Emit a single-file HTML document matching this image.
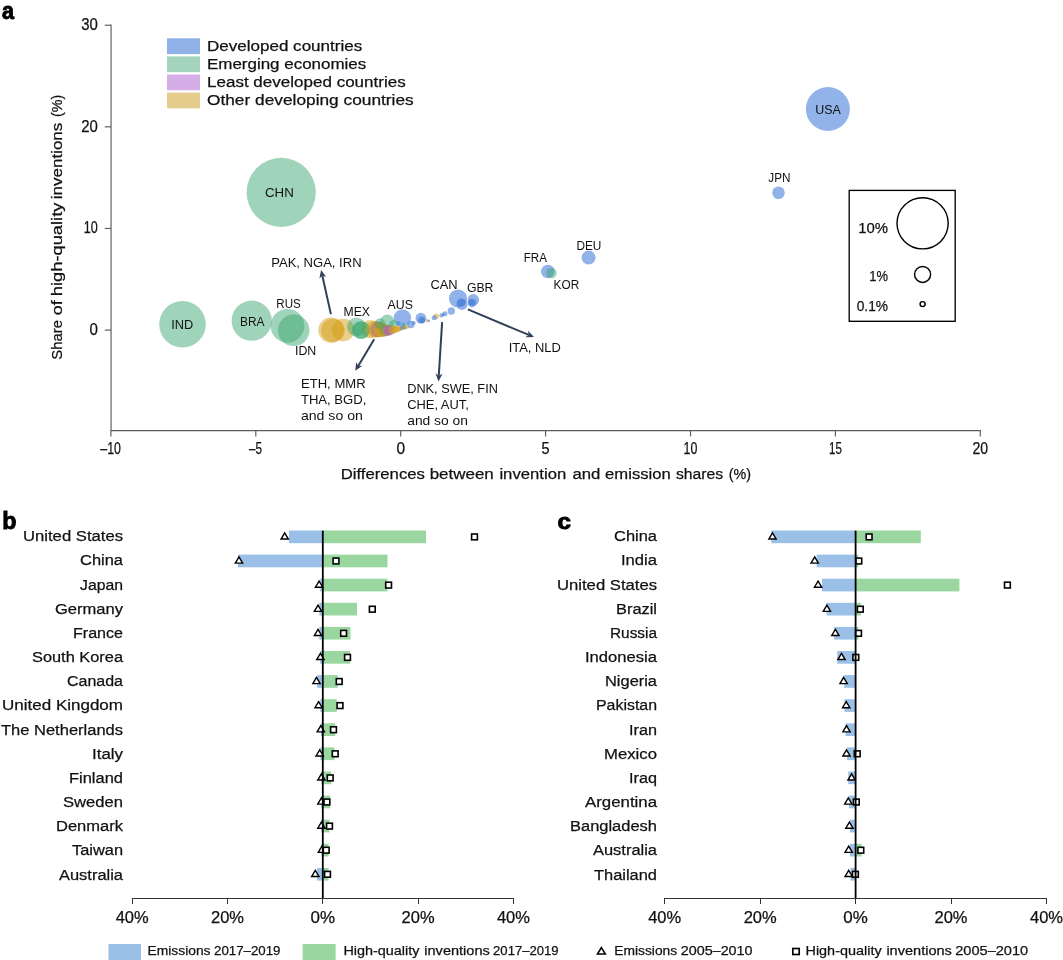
<!DOCTYPE html>
<html lang="en"><head><meta charset="utf-8"><title>Figure</title>
<style>
html,body{margin:0;padding:0;background:#fff;}
body{width:1063px;height:960px;overflow:hidden;}
svg{display:block;font-family:'Liberation Sans', sans-serif;}
</style></head><body>
<svg width="1063" height="960" viewBox="0 0 1063 960" fill="#111">
<rect width="1063" height="960" fill="#fff"/>
<g stroke="#5c5c5c" stroke-width="1.15" fill="none">
<path d="M111.05 24.6V430.55H980.9"/>
<path d="M104.7 25.21H111"/>
<path d="M104.7 126.84H111"/>
<path d="M104.7 228.47H111"/>
<path d="M104.7 330.1H111"/>
<path d="M110.9 430.5V436.4"/>
<path d="M255.8 430.5V436.4"/>
<path d="M400.7 430.5V436.4"/>
<path d="M545.6 430.5V436.4"/>
<path d="M690.5 430.5V436.4"/>
<path d="M835.4 430.5V436.4"/>
<path d="M980.3 430.5V436.4"/>
</g>
<text x="97.8" y="30.0" font-size="16" text-anchor="end" textLength="16.6" lengthAdjust="spacingAndGlyphs" stroke="#111" stroke-width="0.25">30</text>
<text x="97.8" y="131.6" font-size="16" text-anchor="end" textLength="16.6" lengthAdjust="spacingAndGlyphs" stroke="#111" stroke-width="0.25">20</text>
<text x="97.8" y="233.3" font-size="16" text-anchor="end" textLength="14" lengthAdjust="spacingAndGlyphs" stroke="#111" stroke-width="0.25">10</text>
<text x="97.8" y="334.9" font-size="16" text-anchor="end" textLength="8.4" lengthAdjust="spacingAndGlyphs" stroke="#111" stroke-width="0.25">0</text>
<text x="110.6" y="454" font-size="16" text-anchor="middle" textLength="20.6" lengthAdjust="spacingAndGlyphs" stroke="#111" stroke-width="0.25">–10</text>
<text x="255.5" y="454" font-size="16" text-anchor="middle" textLength="13" lengthAdjust="spacingAndGlyphs" stroke="#111" stroke-width="0.25">–5</text>
<text x="400.7" y="454" font-size="16" text-anchor="middle" textLength="8.6" lengthAdjust="spacingAndGlyphs" stroke="#111" stroke-width="0.25">0</text>
<text x="545.6" y="454" font-size="16" text-anchor="middle" textLength="8" lengthAdjust="spacingAndGlyphs" stroke="#111" stroke-width="0.25">5</text>
<text x="690.5" y="454" font-size="16" text-anchor="middle" textLength="13.8" lengthAdjust="spacingAndGlyphs" stroke="#111" stroke-width="0.25">10</text>
<text x="835.4" y="454" font-size="16" text-anchor="middle" textLength="12.8" lengthAdjust="spacingAndGlyphs" stroke="#111" stroke-width="0.25">15</text>
<text x="980.3" y="454" font-size="16" text-anchor="middle" textLength="15.6" lengthAdjust="spacingAndGlyphs" stroke="#111" stroke-width="0.25">20</text>
<text x="340.7" y="479" font-size="15.5" textLength="84.2" lengthAdjust="spacingAndGlyphs" stroke="#111" stroke-width="0.25">Differences</text>
<text x="429.7" y="479" font-size="15.5" textLength="64.1" lengthAdjust="spacingAndGlyphs" stroke="#111" stroke-width="0.25">between</text>
<text x="499.4" y="479" font-size="15.5" textLength="66.8" lengthAdjust="spacingAndGlyphs" stroke="#111" stroke-width="0.25">invention</text>
<text x="572.4" y="479" font-size="15.5" textLength="27.9" lengthAdjust="spacingAndGlyphs" stroke="#111" stroke-width="0.25">and</text>
<text x="605.1" y="479" font-size="15.5" textLength="65.6" lengthAdjust="spacingAndGlyphs" stroke="#111" stroke-width="0.25">emission</text>
<text x="675.9" y="479" font-size="15.5" textLength="47.2" lengthAdjust="spacingAndGlyphs" stroke="#111" stroke-width="0.25">shares</text>
<text x="728.7" y="479" font-size="15.5" textLength="22.3" lengthAdjust="spacingAndGlyphs" stroke="#111" stroke-width="0.25">(%)</text>
<text x="62.2" y="359.7" font-size="15.5" textLength="39.7" lengthAdjust="spacingAndGlyphs" transform="rotate(-90 62.2 359.7)" stroke="#111" stroke-width="0.25">Share</text>
<text x="62.2" y="315.2" font-size="15.5" textLength="14.9" lengthAdjust="spacingAndGlyphs" transform="rotate(-90 62.2 315.2)" stroke="#111" stroke-width="0.25">of</text>
<text x="62.2" y="296.2" font-size="15.5" textLength="93.6" lengthAdjust="spacingAndGlyphs" transform="rotate(-90 62.2 296.2)" stroke="#111" stroke-width="0.25">high-quality</text>
<text x="62.2" y="199.2" font-size="15.5" textLength="76.5" lengthAdjust="spacingAndGlyphs" transform="rotate(-90 62.2 199.2)" stroke="#111" stroke-width="0.25">inventions</text>
<text x="62.2" y="116.9" font-size="15.5" textLength="22.2" lengthAdjust="spacingAndGlyphs" transform="rotate(-90 62.2 116.9)" stroke="#111" stroke-width="0.25">(%)</text>
<text x="2" y="19.4" font-size="23" textLength="12" lengthAdjust="spacingAndGlyphs" font-weight="bold" stroke="#000" stroke-width="0.9" fill="#000">a</text>
<rect x="167" y="38.3" width="33" height="15.8" fill="#8fb1e8"/>
<text x="207" y="51.3" font-size="15.5" textLength="155.2" lengthAdjust="spacingAndGlyphs" stroke="#111" stroke-width="0.25">Developed countries</text>
<rect x="167" y="56.4" width="33" height="15.8" fill="#a4d4bb"/>
<text x="207" y="69.2" font-size="15.5" textLength="159.2" lengthAdjust="spacingAndGlyphs" stroke="#111" stroke-width="0.25">Emerging economies</text>
<rect x="167" y="74.5" width="33" height="15.8" fill="#d5aee8"/>
<text x="207" y="87.1" font-size="15.5" textLength="198.7" lengthAdjust="spacingAndGlyphs" stroke="#111" stroke-width="0.25">Least developed countries</text>
<rect x="167" y="92.6" width="33" height="15.8" fill="#e5cd8e"/>
<text x="207" y="105.0" font-size="15.5" textLength="206.7" lengthAdjust="spacingAndGlyphs" stroke="#111" stroke-width="0.25">Other developing countries</text>
<circle cx="281.2" cy="192.4" r="34.6" fill="rgba(54,164,109,0.47)"/>
<circle cx="182.5" cy="324.3" r="23.3" fill="rgba(54,164,109,0.47)"/>
<circle cx="827.9" cy="109" r="22" fill="rgba(73,128,218,0.6)"/>
<circle cx="251.7" cy="320.7" r="20.1" fill="rgba(54,164,109,0.47)"/>
<circle cx="287.5" cy="325.8" r="16.9" fill="rgba(54,164,109,0.47)"/>
<circle cx="293.7" cy="330.3" r="15.8" fill="rgba(54,164,109,0.47)"/>
<circle cx="331" cy="330.1" r="12.7" fill="rgba(212,160,23,0.5)"/>
<circle cx="333" cy="330.5" r="11.8" fill="rgba(212,160,23,0.5)"/>
<circle cx="343.2" cy="330.1" r="11.3" fill="rgba(212,160,23,0.5)"/>
<circle cx="356.4" cy="326.8" r="9.4" fill="rgba(54,164,109,0.47)"/>
<circle cx="370.2" cy="329.1" r="9.2" fill="rgba(212,160,23,0.5)"/>
<circle cx="458" cy="298.5" r="9.1" fill="rgba(73,128,218,0.6)"/>
<circle cx="361.1" cy="330.1" r="8.9" fill="rgba(54,164,109,0.47)"/>
<circle cx="402.4" cy="318" r="8.75" fill="rgba(73,128,218,0.6)"/>
<circle cx="361" cy="330" r="8.7" fill="rgba(54,164,109,0.47)"/>
<circle cx="374.8" cy="329.3" r="8.5" fill="rgba(212,160,23,0.5)"/>
<circle cx="376.8" cy="329.4" r="8.1" fill="rgba(212,160,23,0.5)"/>
<circle cx="378.3" cy="329.5" r="7.8" fill="rgba(170,90,210,0.5)"/>
<circle cx="379.8" cy="329.7" r="7.4" fill="rgba(212,160,23,0.5)"/>
<circle cx="387.2" cy="321.9" r="7.3" fill="rgba(54,164,109,0.47)"/>
<circle cx="381.5" cy="330" r="7" fill="rgba(212,160,23,0.5)"/>
<circle cx="588.6" cy="257.6" r="7" fill="rgba(73,128,218,0.6)"/>
<circle cx="547.8" cy="271.5" r="6.8" fill="rgba(73,128,218,0.6)"/>
<circle cx="383.2" cy="330.2" r="6.5" fill="rgba(212,160,23,0.5)"/>
<circle cx="778.5" cy="192.7" r="6.3" fill="rgba(73,128,218,0.6)"/>
<circle cx="384.8" cy="330.3" r="6.1" fill="rgba(212,160,23,0.5)"/>
<circle cx="385.5" cy="330.3" r="5.9" fill="rgba(54,164,109,0.47)"/>
<circle cx="473.3" cy="299.9" r="5.8" fill="rgba(73,128,218,0.6)"/>
<circle cx="386.8" cy="330.3" r="5.6" fill="rgba(212,160,23,0.5)"/>
<circle cx="462" cy="304.3" r="5.6" fill="rgba(73,128,218,0.6)"/>
<circle cx="380" cy="323.8" r="5.5" fill="rgba(54,164,109,0.47)"/>
<circle cx="388.3" cy="330.4" r="5.4" fill="rgba(170,90,210,0.5)"/>
<circle cx="420.9" cy="318.1" r="5.4" fill="rgba(73,128,218,0.6)"/>
<circle cx="551.4" cy="273" r="5.3" fill="rgba(54,164,109,0.47)"/>
<circle cx="389.8" cy="330.3" r="5" fill="rgba(170,90,210,0.5)"/>
<circle cx="393.4" cy="324.5" r="4.5" fill="rgba(54,164,109,0.47)"/>
<circle cx="392.3" cy="329.8" r="4.4" fill="rgba(212,160,23,0.5)"/>
<circle cx="472.1" cy="303" r="4.2" fill="rgba(73,128,218,0.6)"/>
<circle cx="461.2" cy="302.6" r="4" fill="rgba(73,128,218,0.6)"/>
<circle cx="394.3" cy="329.5" r="3.8" fill="rgba(212,160,23,0.5)"/>
<circle cx="410.9" cy="324.5" r="3.7" fill="rgba(73,128,218,0.6)"/>
<circle cx="451.3" cy="311" r="3.7" fill="rgba(73,128,218,0.6)"/>
<circle cx="421.6" cy="320" r="3.6" fill="rgba(73,128,218,0.6)"/>
<circle cx="396.3" cy="329.2" r="3.3" fill="rgba(212,160,23,0.5)"/>
<circle cx="471.5" cy="302.8" r="3.3" fill="rgba(73,128,218,0.6)"/>
<circle cx="398.3" cy="328.8" r="2.9" fill="rgba(212,160,23,0.5)"/>
<circle cx="436.3" cy="316.3" r="2.9" fill="rgba(212,160,23,0.5)"/>
<circle cx="422.3" cy="320.3" r="2.6" fill="rgba(73,128,218,0.6)"/>
<circle cx="400.3" cy="328.4" r="2.5" fill="rgba(212,160,23,0.5)"/>
<circle cx="434.2" cy="317.7" r="2.5" fill="rgba(73,128,218,0.6)"/>
<circle cx="445" cy="313.7" r="2.5" fill="rgba(73,128,218,0.6)"/>
<circle cx="398.5" cy="323.6" r="2.3" fill="rgba(73,128,218,0.6)"/>
<circle cx="401.8" cy="327.9" r="2.2" fill="rgba(73,128,218,0.6)"/>
<circle cx="403" cy="327.8" r="2.1" fill="rgba(212,160,23,0.5)"/>
<circle cx="441.5" cy="315.4" r="2.1" fill="rgba(73,128,218,0.6)"/>
<circle cx="404.3" cy="327.6" r="2" fill="rgba(73,128,218,0.6)"/>
<circle cx="403.5" cy="324.5" r="2" fill="rgba(54,164,109,0.47)"/>
<circle cx="413.7" cy="323" r="2" fill="rgba(73,128,218,0.6)"/>
<circle cx="405.5" cy="327.5" r="1.9" fill="rgba(212,160,23,0.5)"/>
<circle cx="407.5" cy="327.2" r="1.7" fill="rgba(212,160,23,0.5)"/>
<circle cx="427.1" cy="320.8" r="1.7" fill="rgba(212,160,23,0.5)"/>
<circle cx="443.3" cy="314.6" r="1.6" fill="rgba(73,128,218,0.6)"/>
<circle cx="428.8" cy="320.7" r="1.3" fill="rgba(73,128,218,0.6)"/>
<text x="265" y="197.2" font-size="13.4" textLength="28.8" lengthAdjust="spacingAndGlyphs">CHN</text>
<text x="171.3" y="328.9" font-size="13.4" textLength="22" lengthAdjust="spacingAndGlyphs">IND</text>
<text x="240" y="325.5" font-size="13.4" textLength="24.5" lengthAdjust="spacingAndGlyphs">BRA</text>
<text x="276.3" y="308" font-size="13.4" textLength="24.5" lengthAdjust="spacingAndGlyphs">RUS</text>
<text x="295" y="355" font-size="13.4" textLength="21.3" lengthAdjust="spacingAndGlyphs">IDN</text>
<text x="271.2" y="266.5" font-size="13.4" textLength="90.4" lengthAdjust="spacingAndGlyphs">PAK, NGA, IRN</text>
<text x="343.6" y="315.7" font-size="13.4" textLength="26.4" lengthAdjust="spacingAndGlyphs">MEX</text>
<text x="387.5" y="308.9" font-size="13.4" textLength="25.4" lengthAdjust="spacingAndGlyphs">AUS</text>
<text x="430.4" y="288.8" font-size="13.4" textLength="27.3" lengthAdjust="spacingAndGlyphs">CAN</text>
<text x="466.9" y="291.7" font-size="13.4" textLength="26.6" lengthAdjust="spacingAndGlyphs">GBR</text>
<text x="300.9" y="387.6" font-size="13.4" textLength="64.8" lengthAdjust="spacingAndGlyphs">ETH, MMR</text>
<text x="300.9" y="403.6" font-size="13.4" textLength="65.4" lengthAdjust="spacingAndGlyphs">THA, BGD,</text>
<text x="300.9" y="419.6" font-size="13.4" textLength="62" lengthAdjust="spacingAndGlyphs">and so on</text>
<text x="407.2" y="392.7" font-size="13.4" textLength="90.7" lengthAdjust="spacingAndGlyphs">DNK, SWE, FIN</text>
<text x="407.2" y="408.9" font-size="13.4" textLength="61.6" lengthAdjust="spacingAndGlyphs">CHE, AUT,</text>
<text x="407.2" y="425.2" font-size="13.4" textLength="60.8" lengthAdjust="spacingAndGlyphs">and so on</text>
<text x="508.7" y="351.7" font-size="13.4" textLength="52.1" lengthAdjust="spacingAndGlyphs">ITA, NLD</text>
<text x="523.7" y="262" font-size="13.4" textLength="23.2" lengthAdjust="spacingAndGlyphs">FRA</text>
<text x="576.4" y="250.3" font-size="13.4" textLength="25" lengthAdjust="spacingAndGlyphs">DEU</text>
<text x="553.5" y="289.2" font-size="13.4" textLength="25.7" lengthAdjust="spacingAndGlyphs">KOR</text>
<text x="768.3" y="182.3" font-size="13.4" textLength="22.2" lengthAdjust="spacingAndGlyphs">JPN</text>
<text x="815.3" y="114.4" font-size="13.4" textLength="25.6" lengthAdjust="spacingAndGlyphs">USA</text>
<path d="M330.9 314.1L322.3 275.5" stroke="#30405a" stroke-width="2" fill="none"/>
<path d="M321.1 269.9L326.2 277.0L322.3 275.5L319.4 278.5Z" fill="#30405a"/>
<path d="M374.2 339.2L358.2 365.9" stroke="#30405a" stroke-width="2" fill="none"/>
<path d="M355.2 370.8L356.3 362.1L358.2 365.9L362.3 365.7Z" fill="#30405a"/>
<path d="M442.1 322.1L438.8 375.8" stroke="#30405a" stroke-width="2" fill="none"/>
<path d="M438.5 381.5L435.5 373.3L438.8 375.8L442.5 373.7Z" fill="#30405a"/>
<path d="M467.9 309.4L528.7 334.9" stroke="#30405a" stroke-width="2" fill="none"/>
<path d="M534.0 337.1L525.3 337.2L528.7 334.9L528.0 330.8Z" fill="#30405a"/>
<rect x="849.2" y="190.4" width="106" height="130.9" fill="none" stroke="#000" stroke-width="1.35"/>
<circle cx="922.6" cy="223.3" r="25.6" fill="none" stroke="#000" stroke-width="1.4"/>
<circle cx="922.6" cy="274.4" r="8" fill="none" stroke="#000" stroke-width="1.45"/>
<circle cx="922.6" cy="304.1" r="2.5" fill="none" stroke="#000" stroke-width="1.45"/>
<text x="888" y="232.8" font-size="15.2" text-anchor="end" textLength="29.8" lengthAdjust="spacingAndGlyphs" stroke="#111" stroke-width="0.25">10%</text>
<text x="888" y="281" font-size="15.2" text-anchor="end" textLength="18.7" lengthAdjust="spacingAndGlyphs" stroke="#111" stroke-width="0.25">1%</text>
<text x="888" y="311" font-size="15.2" text-anchor="end" textLength="31.3" lengthAdjust="spacingAndGlyphs" stroke="#111" stroke-width="0.25">0.1%</text>
<text x="2.3" y="529.2" font-size="23.5" textLength="14.2" lengthAdjust="spacingAndGlyphs" font-weight="bold" stroke="#000" stroke-width="0.9" fill="#000">b</text>
<text x="123" y="541.1" font-size="15.5" text-anchor="end" textLength="100" lengthAdjust="spacingAndGlyphs" stroke="#111" stroke-width="0.25">United States</text>
<rect x="289" y="530.5" width="33.8" height="12.7" fill="#9bc0e8"/>
<rect x="322.8" y="530.5" width="103.2" height="12.7" fill="#9ad7a0"/>
<text x="123" y="565.3" font-size="15.5" text-anchor="end" textLength="43" lengthAdjust="spacingAndGlyphs" stroke="#111" stroke-width="0.25">China</text>
<rect x="238" y="554.6" width="84.8" height="12.7" fill="#9bc0e8"/>
<rect x="322.8" y="554.6" width="64.7" height="12.7" fill="#9ad7a0"/>
<text x="123" y="589.5" font-size="15.5" text-anchor="end" textLength="43" lengthAdjust="spacingAndGlyphs" stroke="#111" stroke-width="0.25">Japan</text>
<rect x="320.2" y="578.7" width="2.6" height="12.7" fill="#9bc0e8"/>
<rect x="322.8" y="578.7" width="64.7" height="12.7" fill="#9ad7a0"/>
<text x="123" y="613.6" font-size="15.5" text-anchor="end" textLength="68" lengthAdjust="spacingAndGlyphs" stroke="#111" stroke-width="0.25">Germany</text>
<rect x="319.3" y="602.8" width="3.5" height="12.7" fill="#9bc0e8"/>
<rect x="322.8" y="602.8" width="34.2" height="12.7" fill="#9ad7a0"/>
<text x="123" y="637.8" font-size="15.5" text-anchor="end" textLength="50" lengthAdjust="spacingAndGlyphs" stroke="#111" stroke-width="0.25">France</text>
<rect x="319.3" y="626.9" width="3.5" height="12.7" fill="#9bc0e8"/>
<rect x="322.8" y="626.9" width="27.7" height="12.7" fill="#9ad7a0"/>
<text x="123" y="662.0" font-size="15.5" text-anchor="end" textLength="91" lengthAdjust="spacingAndGlyphs" stroke="#111" stroke-width="0.25">South Korea</text>
<rect x="320.2" y="651.0" width="2.6" height="12.7" fill="#9bc0e8"/>
<rect x="322.8" y="651.0" width="27.2" height="12.7" fill="#9ad7a0"/>
<text x="123" y="686.2" font-size="15.5" text-anchor="end" textLength="56" lengthAdjust="spacingAndGlyphs" stroke="#111" stroke-width="0.25">Canada</text>
<rect x="317.2" y="675.1" width="5.6" height="12.7" fill="#9bc0e8"/>
<rect x="322.8" y="675.1" width="14.9" height="12.7" fill="#9ad7a0"/>
<text x="123" y="710.4" font-size="15.5" text-anchor="end" textLength="121" lengthAdjust="spacingAndGlyphs" stroke="#111" stroke-width="0.25">United Kingdom</text>
<rect x="320.3" y="699.2" width="2.5" height="12.7" fill="#9bc0e8"/>
<rect x="322.8" y="699.2" width="14.0" height="12.7" fill="#9ad7a0"/>
<text x="123" y="734.5" font-size="15.5" text-anchor="end" textLength="122" lengthAdjust="spacingAndGlyphs" stroke="#111" stroke-width="0.25">The Netherlands</text>
<rect x="321" y="723.3" width="1.8" height="12.7" fill="#9bc0e8"/>
<rect x="322.8" y="723.3" width="12.4" height="12.7" fill="#9ad7a0"/>
<text x="123" y="758.7" font-size="15.5" text-anchor="end" textLength="31" lengthAdjust="spacingAndGlyphs" stroke="#111" stroke-width="0.25">Italy</text>
<rect x="320.3" y="747.4" width="2.5" height="12.7" fill="#9bc0e8"/>
<rect x="322.8" y="747.4" width="11.7" height="12.7" fill="#9ad7a0"/>
<text x="123" y="782.9" font-size="15.5" text-anchor="end" textLength="54" lengthAdjust="spacingAndGlyphs" stroke="#111" stroke-width="0.25">Finland</text>
<rect x="321.3" y="771.5" width="1.5" height="12.7" fill="#9bc0e8"/>
<rect x="322.8" y="771.5" width="8.5" height="12.7" fill="#9ad7a0"/>
<text x="123" y="807.1" font-size="15.5" text-anchor="end" textLength="60" lengthAdjust="spacingAndGlyphs" stroke="#111" stroke-width="0.25">Sweden</text>
<rect x="321.3" y="795.6" width="1.5" height="12.7" fill="#9bc0e8"/>
<rect x="322.8" y="795.6" width="7.4" height="12.7" fill="#9ad7a0"/>
<text x="123" y="831.3" font-size="15.5" text-anchor="end" textLength="67" lengthAdjust="spacingAndGlyphs" stroke="#111" stroke-width="0.25">Denmark</text>
<rect x="321.3" y="819.7" width="1.5" height="12.7" fill="#9bc0e8"/>
<rect x="322.8" y="819.7" width="6.7" height="12.7" fill="#9ad7a0"/>
<text x="123" y="855.4" font-size="15.5" text-anchor="end" textLength="51" lengthAdjust="spacingAndGlyphs" stroke="#111" stroke-width="0.25">Taiwan</text>
<rect x="321.5" y="843.8" width="1.3" height="12.7" fill="#9bc0e8"/>
<rect x="322.8" y="843.8" width="5.8" height="12.7" fill="#9ad7a0"/>
<text x="123" y="879.6" font-size="15.5" text-anchor="end" textLength="64" lengthAdjust="spacingAndGlyphs" stroke="#111" stroke-width="0.25">Australia</text>
<rect x="317" y="867.9" width="5.8" height="12.7" fill="#9bc0e8"/>
<rect x="322.8" y="867.9" width="5.8" height="12.7" fill="#9ad7a0"/>
<path d="M284.7 532.88L288.36 539.05H281.04Z" fill="#fff" stroke="#000" stroke-width="1.4" stroke-linejoin="miter"/>
<rect x="471.60" y="534.00" width="5.8" height="5.8" fill="#fff" stroke="#000" stroke-width="1.6"/>
<path d="M239.0 556.98L242.66 563.15H235.34Z" fill="#fff" stroke="#000" stroke-width="1.4" stroke-linejoin="miter"/>
<rect x="333.10" y="558.10" width="5.8" height="5.8" fill="#fff" stroke="#000" stroke-width="1.6"/>
<path d="M319.1 581.08L322.76 587.25H315.44Z" fill="#fff" stroke="#000" stroke-width="1.4" stroke-linejoin="miter"/>
<rect x="385.70" y="582.20" width="5.8" height="5.8" fill="#fff" stroke="#000" stroke-width="1.6"/>
<path d="M318.0 605.18L321.66 611.35H314.34Z" fill="#fff" stroke="#000" stroke-width="1.4" stroke-linejoin="miter"/>
<rect x="369.40" y="606.30" width="5.8" height="5.8" fill="#fff" stroke="#000" stroke-width="1.6"/>
<path d="M318.0 629.28L321.66 635.45H314.34Z" fill="#fff" stroke="#000" stroke-width="1.4" stroke-linejoin="miter"/>
<rect x="340.70" y="630.40" width="5.8" height="5.8" fill="#fff" stroke="#000" stroke-width="1.6"/>
<path d="M320.4 653.38L324.06 659.55H316.74Z" fill="#fff" stroke="#000" stroke-width="1.4" stroke-linejoin="miter"/>
<rect x="344.60" y="654.50" width="5.8" height="5.8" fill="#fff" stroke="#000" stroke-width="1.6"/>
<path d="M316.5 677.48L320.16 683.65H312.84Z" fill="#fff" stroke="#000" stroke-width="1.4" stroke-linejoin="miter"/>
<rect x="336.30" y="678.60" width="5.8" height="5.8" fill="#fff" stroke="#000" stroke-width="1.6"/>
<path d="M318.6 701.58L322.26 707.75H314.94Z" fill="#fff" stroke="#000" stroke-width="1.4" stroke-linejoin="miter"/>
<rect x="337.10" y="702.70" width="5.8" height="5.8" fill="#fff" stroke="#000" stroke-width="1.6"/>
<path d="M320.8 725.68L324.46 731.85H317.14Z" fill="#fff" stroke="#000" stroke-width="1.4" stroke-linejoin="miter"/>
<rect x="330.60" y="726.80" width="5.8" height="5.8" fill="#fff" stroke="#000" stroke-width="1.6"/>
<path d="M319.7 749.78L323.36 755.95H316.04Z" fill="#fff" stroke="#000" stroke-width="1.4" stroke-linejoin="miter"/>
<rect x="332.30" y="750.90" width="5.8" height="5.8" fill="#fff" stroke="#000" stroke-width="1.6"/>
<path d="M321.4 773.88L325.06 780.05H317.74Z" fill="#fff" stroke="#000" stroke-width="1.4" stroke-linejoin="miter"/>
<rect x="327.30" y="775.00" width="5.8" height="5.8" fill="#fff" stroke="#000" stroke-width="1.6"/>
<path d="M321.4 797.98L325.06 804.15H317.74Z" fill="#fff" stroke="#000" stroke-width="1.4" stroke-linejoin="miter"/>
<rect x="324.00" y="799.10" width="5.8" height="5.8" fill="#fff" stroke="#000" stroke-width="1.6"/>
<path d="M321.4 822.08L325.06 828.25H317.74Z" fill="#fff" stroke="#000" stroke-width="1.4" stroke-linejoin="miter"/>
<rect x="326.60" y="823.20" width="5.8" height="5.8" fill="#fff" stroke="#000" stroke-width="1.6"/>
<path d="M321.9 846.18L325.56 852.35H318.24Z" fill="#fff" stroke="#000" stroke-width="1.4" stroke-linejoin="miter"/>
<rect x="323.30" y="847.30" width="5.8" height="5.8" fill="#fff" stroke="#000" stroke-width="1.6"/>
<path d="M315.3 870.28L318.96 876.45H311.64Z" fill="#fff" stroke="#000" stroke-width="1.4" stroke-linejoin="miter"/>
<rect x="324.60" y="871.40" width="5.8" height="5.8" fill="#fff" stroke="#000" stroke-width="1.6"/>
<rect x="321.9" y="530.6" width="1.8" height="368" fill="#000"/>
<g stroke="#333" stroke-width="1" fill="none" shape-rendering="crispEdges">
<path d="M132 898.5H514"/>
<path d="M132.5 898V904"/>
<path d="M227.5 898V904"/>
<path d="M322.5 898V904"/>
<path d="M418.5 898V904"/>
<path d="M513.5 898V904"/>
</g>
<text x="132.2" y="923.2" font-size="15.8" text-anchor="middle" textLength="33" lengthAdjust="spacingAndGlyphs" stroke="#111" stroke-width="0.25">40%</text>
<text x="227.5" y="923.2" font-size="15.8" text-anchor="middle" textLength="33" lengthAdjust="spacingAndGlyphs" stroke="#111" stroke-width="0.25">20%</text>
<text x="322.8" y="923.2" font-size="15.8" text-anchor="middle" textLength="24.5" lengthAdjust="spacingAndGlyphs" stroke="#111" stroke-width="0.25">0%</text>
<text x="418.1" y="923.2" font-size="15.8" text-anchor="middle" textLength="33" lengthAdjust="spacingAndGlyphs" stroke="#111" stroke-width="0.25">20%</text>
<text x="513.4" y="923.2" font-size="15.8" text-anchor="middle" textLength="33" lengthAdjust="spacingAndGlyphs" stroke="#111" stroke-width="0.25">40%</text>
<text x="557.5" y="529.2" font-size="22" textLength="13.5" lengthAdjust="spacingAndGlyphs" font-weight="bold" stroke="#000" stroke-width="0.9" fill="#000">c</text>
<text x="657" y="541.1" font-size="15.5" text-anchor="end" textLength="43" lengthAdjust="spacingAndGlyphs" stroke="#111" stroke-width="0.25">China</text>
<rect x="771.3" y="530.5" width="84.3" height="12.7" fill="#9bc0e8"/>
<rect x="855.6" y="530.5" width="65.2" height="12.7" fill="#9ad7a0"/>
<text x="657" y="565.3" font-size="15.5" text-anchor="end" textLength="36" lengthAdjust="spacingAndGlyphs" stroke="#111" stroke-width="0.25">India</text>
<rect x="816.6" y="554.6" width="39.0" height="12.7" fill="#9bc0e8"/>
<rect x="855.6" y="554.6" width="2.7" height="12.7" fill="#9ad7a0"/>
<text x="657" y="589.5" font-size="15.5" text-anchor="end" textLength="100" lengthAdjust="spacingAndGlyphs" stroke="#111" stroke-width="0.25">United States</text>
<rect x="822" y="578.7" width="33.6" height="12.7" fill="#9bc0e8"/>
<rect x="855.6" y="578.7" width="103.8" height="12.7" fill="#9ad7a0"/>
<text x="657" y="613.6" font-size="15.5" text-anchor="end" textLength="41" lengthAdjust="spacingAndGlyphs" stroke="#111" stroke-width="0.25">Brazil</text>
<rect x="826.6" y="602.8" width="29.0" height="12.7" fill="#9bc0e8"/>
<rect x="855.6" y="602.8" width="5.3" height="12.7" fill="#9ad7a0"/>
<text x="657" y="637.8" font-size="15.5" text-anchor="end" textLength="47" lengthAdjust="spacingAndGlyphs" stroke="#111" stroke-width="0.25">Russia</text>
<rect x="834.2" y="626.9" width="21.4" height="12.7" fill="#9bc0e8"/>
<rect x="855.6" y="626.9" width="2.9" height="12.7" fill="#9ad7a0"/>
<text x="657" y="662.0" font-size="15.5" text-anchor="end" textLength="72" lengthAdjust="spacingAndGlyphs" stroke="#111" stroke-width="0.25">Indonesia</text>
<rect x="837.2" y="651.0" width="18.4" height="12.7" fill="#9bc0e8"/>
<text x="657" y="686.2" font-size="15.5" text-anchor="end" textLength="52" lengthAdjust="spacingAndGlyphs" stroke="#111" stroke-width="0.25">Nigeria</text>
<rect x="844.2" y="675.1" width="11.4" height="12.7" fill="#9bc0e8"/>
<text x="657" y="710.4" font-size="15.5" text-anchor="end" textLength="61" lengthAdjust="spacingAndGlyphs" stroke="#111" stroke-width="0.25">Pakistan</text>
<rect x="844.5" y="699.2" width="11.1" height="12.7" fill="#9bc0e8"/>
<text x="657" y="734.5" font-size="15.5" text-anchor="end" textLength="28" lengthAdjust="spacingAndGlyphs" stroke="#111" stroke-width="0.25">Iran</text>
<rect x="845.6" y="723.3" width="10.0" height="12.7" fill="#9bc0e8"/>
<text x="657" y="758.7" font-size="15.5" text-anchor="end" textLength="53" lengthAdjust="spacingAndGlyphs" stroke="#111" stroke-width="0.25">Mexico</text>
<rect x="847.1" y="747.4" width="8.5" height="12.7" fill="#9bc0e8"/>
<text x="657" y="782.9" font-size="15.5" text-anchor="end" textLength="28" lengthAdjust="spacingAndGlyphs" stroke="#111" stroke-width="0.25">Iraq</text>
<rect x="848.3" y="771.5" width="7.3" height="12.7" fill="#9bc0e8"/>
<text x="657" y="807.1" font-size="15.5" text-anchor="end" textLength="72" lengthAdjust="spacingAndGlyphs" stroke="#111" stroke-width="0.25">Argentina</text>
<rect x="848.9" y="795.6" width="6.7" height="12.7" fill="#9bc0e8"/>
<text x="657" y="831.3" font-size="15.5" text-anchor="end" textLength="87" lengthAdjust="spacingAndGlyphs" stroke="#111" stroke-width="0.25">Bangladesh</text>
<rect x="850" y="819.7" width="5.6" height="12.7" fill="#9bc0e8"/>
<text x="657" y="855.4" font-size="15.5" text-anchor="end" textLength="64" lengthAdjust="spacingAndGlyphs" stroke="#111" stroke-width="0.25">Australia</text>
<rect x="850" y="843.8" width="5.6" height="12.7" fill="#9bc0e8"/>
<rect x="855.6" y="843.8" width="6.1" height="12.7" fill="#9ad7a0"/>
<text x="657" y="879.6" font-size="15.5" text-anchor="end" textLength="63" lengthAdjust="spacingAndGlyphs" stroke="#111" stroke-width="0.25">Thailand</text>
<rect x="850.5" y="867.9" width="5.1" height="12.7" fill="#9bc0e8"/>
<path d="M772.5 532.88L776.16 539.05H768.84Z" fill="#fff" stroke="#000" stroke-width="1.4" stroke-linejoin="miter"/>
<rect x="866.20" y="534.00" width="5.8" height="5.8" fill="#fff" stroke="#000" stroke-width="1.6"/>
<path d="M814.7 556.98L818.36 563.15H811.04Z" fill="#fff" stroke="#000" stroke-width="1.4" stroke-linejoin="miter"/>
<rect x="855.90" y="558.10" width="5.8" height="5.8" fill="#fff" stroke="#000" stroke-width="1.6"/>
<path d="M818.1 581.08L821.76 587.25H814.44Z" fill="#fff" stroke="#000" stroke-width="1.4" stroke-linejoin="miter"/>
<rect x="1004.50" y="582.20" width="5.8" height="5.8" fill="#fff" stroke="#000" stroke-width="1.6"/>
<path d="M826.9 605.18L830.56 611.35H823.24Z" fill="#fff" stroke="#000" stroke-width="1.4" stroke-linejoin="miter"/>
<rect x="857.40" y="606.30" width="5.8" height="5.8" fill="#fff" stroke="#000" stroke-width="1.6"/>
<path d="M835.4 629.28L839.06 635.45H831.74Z" fill="#fff" stroke="#000" stroke-width="1.4" stroke-linejoin="miter"/>
<rect x="855.60" y="630.40" width="5.8" height="5.8" fill="#fff" stroke="#000" stroke-width="1.6"/>
<path d="M841.5 653.38L845.16 659.55H837.84Z" fill="#fff" stroke="#000" stroke-width="1.4" stroke-linejoin="miter"/>
<rect x="852.90" y="654.50" width="5.8" height="5.8" fill="#fff" stroke="#000" stroke-width="1.6"/>
<path d="M843.6 677.48L847.26 683.65H839.94Z" fill="#fff" stroke="#000" stroke-width="1.4" stroke-linejoin="miter"/>
<path d="M846.2 701.58L849.86 707.75H842.54Z" fill="#fff" stroke="#000" stroke-width="1.4" stroke-linejoin="miter"/>
<path d="M846.5 725.68L850.16 731.85H842.84Z" fill="#fff" stroke="#000" stroke-width="1.4" stroke-linejoin="miter"/>
<path d="M846.5 749.78L850.16 755.95H842.84Z" fill="#fff" stroke="#000" stroke-width="1.4" stroke-linejoin="miter"/>
<rect x="854.30" y="750.90" width="5.8" height="5.8" fill="#fff" stroke="#000" stroke-width="1.6"/>
<path d="M851.6 773.88L855.26 780.05H847.94Z" fill="#fff" stroke="#000" stroke-width="1.4" stroke-linejoin="miter"/>
<path d="M848.3 797.98L851.96 804.15H844.64Z" fill="#fff" stroke="#000" stroke-width="1.4" stroke-linejoin="miter"/>
<rect x="853.40" y="799.10" width="5.8" height="5.8" fill="#fff" stroke="#000" stroke-width="1.6"/>
<path d="M849.4 822.08L853.06 828.25H845.74Z" fill="#fff" stroke="#000" stroke-width="1.4" stroke-linejoin="miter"/>
<path d="M848.7 846.18L852.36 852.35H845.04Z" fill="#fff" stroke="#000" stroke-width="1.4" stroke-linejoin="miter"/>
<rect x="857.90" y="847.30" width="5.8" height="5.8" fill="#fff" stroke="#000" stroke-width="1.6"/>
<path d="M848.7 870.28L852.36 876.45H845.04Z" fill="#fff" stroke="#000" stroke-width="1.4" stroke-linejoin="miter"/>
<rect x="852.50" y="871.40" width="5.8" height="5.8" fill="#fff" stroke="#000" stroke-width="1.6"/>
<rect x="854.7" y="530.6" width="1.8" height="368" fill="#000"/>
<g stroke="#333" stroke-width="1" fill="none" shape-rendering="crispEdges">
<path d="M665 898.5H1047"/>
<path d="M664.5 898V904"/>
<path d="M760.5 898V904"/>
<path d="M855.5 898V904"/>
<path d="M951.5 898V904"/>
<path d="M1046.5 898V904"/>
</g>
<text x="664.7" y="923.2" font-size="15.8" text-anchor="middle" textLength="33" lengthAdjust="spacingAndGlyphs" stroke="#111" stroke-width="0.25">40%</text>
<text x="760.2" y="923.2" font-size="15.8" text-anchor="middle" textLength="33" lengthAdjust="spacingAndGlyphs" stroke="#111" stroke-width="0.25">20%</text>
<text x="855.6" y="923.2" font-size="15.8" text-anchor="middle" textLength="24.5" lengthAdjust="spacingAndGlyphs" stroke="#111" stroke-width="0.25">0%</text>
<text x="951.0" y="923.2" font-size="15.8" text-anchor="middle" textLength="33" lengthAdjust="spacingAndGlyphs" stroke="#111" stroke-width="0.25">20%</text>
<text x="1046.5" y="923.2" font-size="15.8" text-anchor="middle" textLength="33" lengthAdjust="spacingAndGlyphs" stroke="#111" stroke-width="0.25">40%</text>
<rect x="108.5" y="944" width="32.5" height="16" fill="#9bc0e8"/>
<text x="147.6" y="955.4" font-size="13.6" textLength="62.9" lengthAdjust="spacingAndGlyphs" stroke="#111" stroke-width="0.25">Emissions</text>
<text x="214.0" y="955.4" font-size="13.6" textLength="66.5" lengthAdjust="spacingAndGlyphs" stroke="#111" stroke-width="0.25">2017–2019</text>
<rect x="302.6" y="944" width="33" height="16" fill="#9ad7a0"/>
<text x="343.4" y="955.4" font-size="13.6" textLength="76.1" lengthAdjust="spacingAndGlyphs" stroke="#111" stroke-width="0.25">High-quality</text>
<text x="424.3" y="955.4" font-size="13.6" textLength="65.5" lengthAdjust="spacingAndGlyphs" stroke="#111" stroke-width="0.25">inventions</text>
<text x="493.1" y="955.4" font-size="13.6" textLength="65.5" lengthAdjust="spacingAndGlyphs" stroke="#111" stroke-width="0.25">2017–2019</text>
<path d="M601.4 947.55L605.26 953.95H597.54Z" fill="#fff" stroke="#000" stroke-width="1.6"/>
<text x="614.3" y="955.3" font-size="13.6" textLength="62.9" lengthAdjust="spacingAndGlyphs" stroke="#111" stroke-width="0.25">Emissions</text>
<text x="680.7" y="955.3" font-size="13.6" textLength="71.9" lengthAdjust="spacingAndGlyphs" stroke="#111" stroke-width="0.25">2005–2010</text>
<rect x="792.8" y="948.5" width="6.4" height="6" fill="#fff" stroke="#000" stroke-width="1.65"/>
<text x="805.5" y="955.4" font-size="13.6" textLength="76.1" lengthAdjust="spacingAndGlyphs" stroke="#111" stroke-width="0.25">High-quality</text>
<text x="886.4" y="955.4" font-size="13.6" textLength="65.5" lengthAdjust="spacingAndGlyphs" stroke="#111" stroke-width="0.25">inventions</text>
<text x="955.2" y="955.4" font-size="13.6" textLength="73.0" lengthAdjust="spacingAndGlyphs" stroke="#111" stroke-width="0.25">2005–2010</text>
</svg>
</body></html>
